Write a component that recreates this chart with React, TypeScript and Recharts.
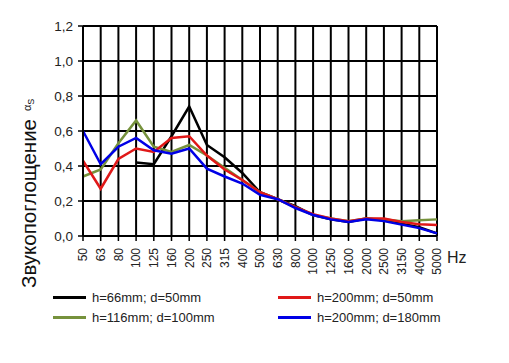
import React from 'react';
import { LineChart, Line, XAxis, YAxis, CartesianGrid, Legend } from 'recharts';

const freqs = ['50', '63', '80', '100', '125', '160', '200', '250', '315', '400', '500', '630', '800', '1000', '1250', '1600', '2000', '2500', '3150', '4000', '5000'];

const h66d50 = [null, null, null, 0.42, 0.41, 0.57, 0.74, 0.52, 0.45, 0.36, 0.25, 0.21, 0.17, 0.12, 0.095, 0.08, 0.1, 0.09, 0.07, 0.05, 0.015];
const h200d50 = [0.43, 0.27, 0.44, 0.5, 0.48, 0.56, 0.57, 0.46, 0.38, 0.32, 0.25, 0.21, 0.165, 0.125, 0.1, 0.085, 0.1, 0.1, 0.08, 0.067, 0.063];
const h116d100 = [0.34, 0.38, 0.53, 0.66, 0.51, 0.48, 0.52, 0.46, 0.39, 0.32, 0.25, 0.21, 0.165, 0.12, 0.1, 0.085, 0.1, 0.095, 0.085, 0.09, 0.095];
const h200d180 = [0.6, 0.41, 0.51, 0.56, 0.49, 0.47, 0.5, 0.385, 0.34, 0.3, 0.235, 0.21, 0.16, 0.12, 0.095, 0.08, 0.095, 0.085, 0.065, 0.045, 0.015];

const yTicks = [0, 0.2, 0.4, 0.6, 0.8, 1.0, 1.2];

const series = [
    { key: 'a', name: 'h=66mm; d=50mm', color: '#000000' },
    { key: 'c', name: 'h=116mm; d=100mm', color: '#76923c' },
    { key: 'b', name: 'h=200mm; d=50mm', color: '#e01818' },
    { key: 'd', name: 'h=200mm; d=180mm', color: '#0000e6' },
];

const data = freqs.map((f, i) => ({
    f,
    a: h66d50[i],
    b: h200d50[i],
    c: h116d100[i],
    d: h200d180[i],
}));

const FONT = '"Liberation Sans", Arial, sans-serif';

const FreqTick = (props: any) => {
    const { x, y, payload } = props;
    return (
        <text x={x} y={y} dy="0.36em" transform={`rotate(-90 ${x} ${y})`} textAnchor="end"
            fontSize={12} fontFamily={FONT} fill="#222">
            {payload.value}
        </text>
    );
};

const HzLabel = () => (
    <text x={447} y={263} fontSize={16} fontFamily={FONT} fill="#222">Hz</text>
);

const YLabel = () => (
    <text x={36} y={288} transform="rotate(-90 36 288)" fontSize={20.5} fontFamily={FONT} fill="#111">
        Звукопоглощение
        <tspan dx={8} dy={-5} fontSize={11}>α</tspan>
        <tspan dy={3} fontSize={9}>S</tspan>
    </text>
);

// legend order in the picture: black / red on the first row, olive / blue on the second
const legendOrder = ['a', 'b', 'c', 'd'];

const LegendBox = () => (
    <div style={{ position: 'relative', width: 509, height: 40, fontFamily: FONT, fontSize: 13, color: '#222' }}>
        {legendOrder.map((k, i) => {
            const s = series.find((x) => x.key === k)!;
            const left = i % 2 === 0 ? 53 : 278;
            const top = i < 2 ? 0 : 20;
            return (
                <div key={k} style={{ position: 'absolute', left, top, display: 'flex', alignItems: 'center', height: 18, whiteSpace: 'nowrap' }}>
                    <span style={{ display: 'inline-block', width: 33, height: 3, background: s.color, marginRight: 6 }} />
                    <span>{s.name}</span>
                </div>
            );
        })}
    </div>
);

export default function App() {
    return (
        <div style={{ position: 'absolute', left: 0, top: 0, width: 509, height: 363, background: '#fff' }}>
            <LineChart width={509} height={363} data={data}
                margin={{ top: 26, right: 72, left: 38, bottom: 77 }}>
                <CartesianGrid stroke="#000" strokeWidth={2} />
                <XAxis dataKey="f" interval={0} height={50} tick={<FreqTick />} tickSize={5} tickMargin={7}
                    axisLine={{ stroke: '#000', strokeWidth: 2 }} tickLine={{ stroke: '#000', strokeWidth: 1.5 }}
                    label={<HzLabel />} />
                <YAxis domain={[0, 1.2]} ticks={yTicks} width={45} tickSize={5} tickMargin={5}
                    tickFormatter={(v: number) => v.toFixed(1).replace('.', ',')}
                    tick={{ fontSize: 13.5, fontFamily: FONT, fill: '#222' }}
                    axisLine={{ stroke: '#000', strokeWidth: 2 }} tickLine={{ stroke: '#000', strokeWidth: 1.5 }}
                    label={<YLabel />} />
                {series.map((s) => (
                    <Line key={s.key} type="linear" dataKey={s.key} name={s.name} stroke={s.color}
                        strokeWidth={2.5} dot={false} activeDot={false} isAnimationActive={false} />
                ))}
                <Legend verticalAlign="middle" align="center" layout="horizontal" content={<LegendBox />}
                    wrapperStyle={{ position: 'absolute', left: 0, top: 288, width: 509 }} />
            </LineChart>
        </div>
    );
}
